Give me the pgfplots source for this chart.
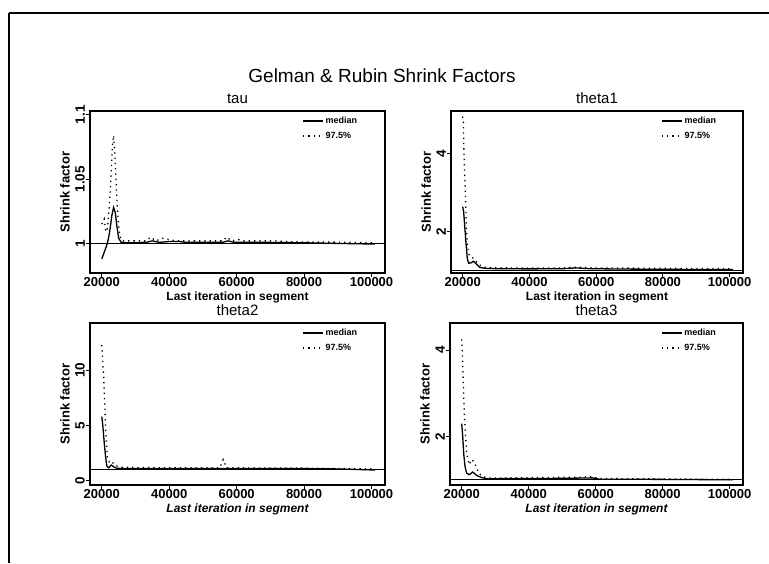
\documentclass[border=0pt]{standalone}
\usepackage{pgfplots}
\pgfplotsset{compat=1.18}
\usepackage{fontspec}
\setmainfont{Liberation Sans}
\newcommand{\fs}[1]{\fontsize{#1}{#1}\selectfont}

\pgfplotsset{
 gel/.style={
  scale only axis, height=162pt,
  axis line style={line width=1.3pt},
  tick pos=left, tick align=outside, major tick length=4pt,
  every tick/.style={black, line width=1pt},
  xmin=16500, xmax=104000, scaled x ticks=false, scaled y ticks=false,
  xtick={20000,40000,60000,80000,100000},
  xticklabels={20000,40000,60000,80000,100000},
  xticklabel style={font=\fs{13}\bfseries, inner sep=0pt},
  yticklabel style={rotate=90, anchor=south, font=\fs{13.5}\bfseries, inner sep=1pt},
  xlabel={Last iteration in segment},
  ylabel={Shrink factor},
  every axis x label/.style={at={(axis description cs:0.5,-0.152)}, anchor=center, inner sep=0pt, font=\fs{12}\bfseries},
  every axis y label/.style={at={(axis description cs:-0.085,0.5)}, rotate=90, anchor=center, font=\fs{13}\bfseries},
  title style={at={(axis description cs:0.5,1)}, anchor=base, yshift=1.5pt, inner sep=0pt, font=\fs{15}},
  legend style={at={(axis description cs:0.72,0.975)}, anchor=north west, draw=none, fill=none, font=\fs{9}\bfseries, row sep=3pt, inner sep=0pt, outer sep=0pt},
  legend cell align=left,
  legend image code/.code={\draw[#1] (0pt,0pt) -- (20pt,0pt);},
 },
 med/.style={black, line width=1.3pt},
 q97/.style={black, line width=1.3pt, dash pattern=on 1.3pt off 4pt},
 hone/.style={black, line width=1.3pt, forget plot},
}

\pgfplotstableread{
x y
20000 0.988
20700 0.993
21400 0.998
22000 1.004
22500 1.012
23000 1.022
23500 1.028
24000 1.024
24500 1.013
25000 1.004
25700 1.001
27000 1.0005
30000 1.0005
33500 1.001
35000 1.002
37000 1.0008
40000 1.0015
43000 1.0015
45000 1.0008
50000 1.0008
56000 1.001
57500 1.002
59000 1.001
65000 1.0008
70000 1.0008
80000 1.0005
90000 1.0
101000 0.9995
}\taumed
\pgfplotstableread{
x y
20000 1.015
20700 1.019
21200 1.009
21700 1.012
22200 1.028
22600 1.045
22900 1.062
23200 1.078
23500 1.084
23800 1.072
24100 1.055
24400 1.038
24800 1.02
25300 1.006
26000 1.002
28000 1.002
33000 1.002
34500 1.005
36000 1.002
38000 1.004
40000 1.003
42000 1.002
50000 1.002
56000 1.002
57000 1.005
58500 1.002
60500 1.003
62000 1.002
70000 1.002
80000 1.001
90000 1.001
101000 1.0005
}\tauq
\pgfplotstableread{
x y
20000 2.64
20300 2.5
20600 2.15
21000 1.7
21400 1.3
21800 1.19
22500 1.2
23200 1.24
24000 1.18
25000 1.09
26500 1.06
30000 1.05
40000 1.045
50000 1.05
54000 1.07
58000 1.05
70000 1.04
80000 1.035
90000 1.03
101000 1.03
}\aamed
\pgfplotstableread{
x y
20000 4.95
20200 4.8
20400 3.95
20600 3.5
20800 3.0
21000 2.4
21300 1.8
21700 1.45
22300 1.35
23200 1.32
24200 1.22
25500 1.12
27000 1.08
35000 1.07
50000 1.07
55000 1.09
60000 1.07
80000 1.06
101000 1.05
}\aaq
\pgfplotstableread{
x y
20000 5.8
20300 5.0
20700 3.5
21100 2.2
21500 1.3
22000 1.15
22800 1.4
23500 1.25
24500 1.1
30000 1.08
50000 1.08
80000 1.08
90000 1.05
101000 0.95
}\bbmed
\pgfplotstableread{
x y
20000 12.3
20300 10.7
20500 9.7
20800 7.6
21100 5.0
21600 2.2
22300 1.6
23000 1.7
24000 1.35
26000 1.2
40000 1.15
55000 1.15
56000 1.9
57000 1.15
80000 1.12
101000 1.05
}\bbq
\pgfplotstableread{
x y
20000 2.3
20300 2.0
20600 1.6
21000 1.3
21500 1.15
22300 1.12
23300 1.18
24500 1.1
26000 1.05
28000 1.02
33000 1.03
45000 1.03
55000 1.04
59000 1.045
61000 1.015
80000 1.01
101000 1.0
}\ccmed
\pgfplotstableread{
x y
20000 4.25
20200 3.9
20400 3.4
20600 2.9
20800 2.5
21000 2.2
21500 1.6
22200 1.35
23000 1.47
23800 1.4
24800 1.2
26000 1.08
28000 1.04
40000 1.05
55000 1.06
59000 1.07
61000 1.03
80000 1.02
101000 1.01
}\ccq

\begin{document}
\begin{tikzpicture}[x=1pt,y=1pt]
\useasboundingbox (0,0) rectangle (769,563);
\fill[white] (0,0) rectangle (769,563);
\draw[line width=1.5pt] (9,550) -- (769,550);
\draw[line width=1.5pt] (9,550) -- (9,0);
\node[font=\fs{19}, anchor=base] at (382,480) {Gelman \& Rubin Shrink Factors};

% tau
\begin{axis}[gel, at={(90pt,290pt)}, anchor=south west, width=295pt,
  title={tau}, ymin=0.977, ymax=1.103, ytick={1,1.05,1.1}, yticklabels={1,1.05,1.1}]
\addplot[med] table {\taumed};
\addplot[q97] table {\tauq};
\addplot[hone] coordinates {(16500,1) (104000,1)};
\legend{median, 97.5\%}
\end{axis}

% theta1
\begin{axis}[gel, at={(451pt,290pt)}, anchor=south west, width=292pt,
  title={theta1}, ymin=0.94, ymax=5.09, ytick={2,4}, yticklabels={2,4}]
\addplot[med] table {\aamed};
\addplot[q97] table {\aaq};
\addplot[hone] coordinates {(16500,1) (104000,1)};
\legend{median, 97.5\%}
\end{axis}

% theta2
\begin{axis}[gel, at={(90pt,78pt)}, anchor=south west, width=295pt,
  title={theta2}, ymin=-0.41, ymax=14.3, ytick={0,5,10}, yticklabels={0,5,10},
  xlabel style={font=\fs{12}\bfseries\itshape}]
\addplot[med] table {\bbmed};
\addplot[q97] table {\bbq};
\addplot[hone] coordinates {(16500,1) (104000,1)};
\legend{median, 97.5\%}
\end{axis}

% theta3
\begin{axis}[gel, at={(450pt,78pt)}, anchor=south west, width=293pt,
  title={theta3}, ymin=0.88, ymax=4.63, ytick={2,4}, yticklabels={2,4},
  xlabel style={font=\fs{12}\bfseries\itshape}]
\addplot[med] table {\ccmed};
\addplot[q97] table {\ccq};
\addplot[hone] coordinates {(16500,1) (104000,1)};
\legend{median, 97.5\%}
\end{axis}
\end{tikzpicture}
\end{document}
